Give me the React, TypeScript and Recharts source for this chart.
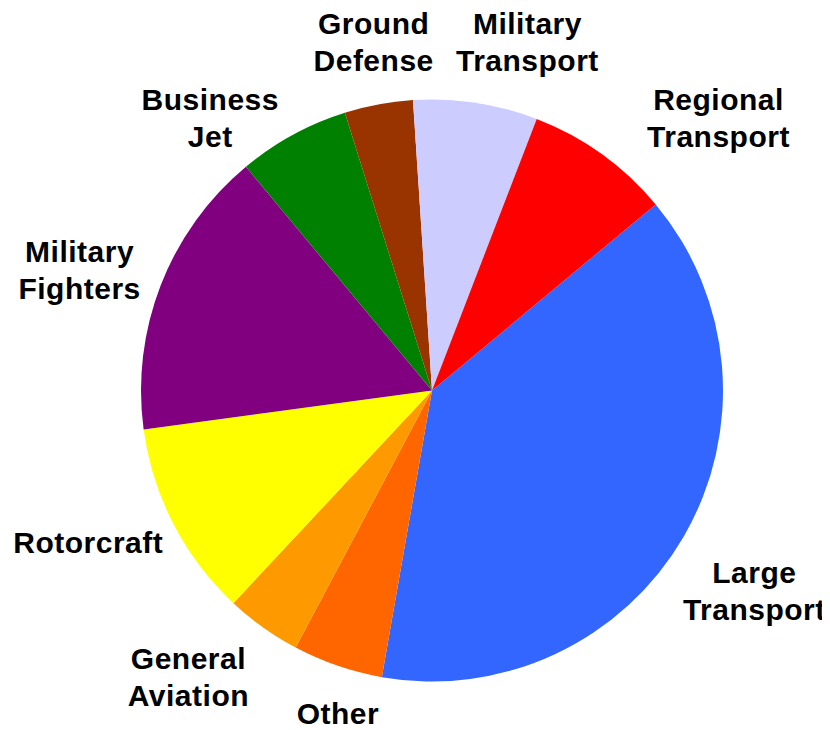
import { PieChart, Pie, Cell } from "recharts";

// slices in clockwise order, starting at the Regional / Large Transport edge
const categories = [
  "Large Transport",
  "Other",
  "General Aviation",
  "Rotorcraft",
  "Military Fighters",
  "Business Jet",
  "Ground Defense",
  "Military Transport",
  "Regional Transport",
];
const shares = [38.8, 5.0, 4.2, 10.9, 16.1, 6.2, 3.8, 6.9, 8.1];
const labelLines = [
  ["Large", "Transport"],
  ["Other"],
  ["General", "Aviation"],
  ["Rotorcraft"],
  ["Military", "Fighters"],
  ["Business", "Jet"],
  ["Ground", "Defense"],
  ["Military", "Transport"],
  ["Regional", "Transport"],
];

const colors = ["#3366FF", "#FF6600", "#FF9900", "#FFFF00", "#800080", "#008000", "#993300", "#CCCCFF", "#FF0000"];
// label shifts away from the default spot (outer radius + 70 along the slice middle)
const labelNudge = [
  [10, 19],
  [23, -19],
  [-34, -8],
  [-23, -14],
  [-16, 10],
  [-49, 44],
  [8, 6],
  [41, 8],
  [76, 21],
];

const data = categories.map((name, i) => ({ name, value: shares[i] }));

const RADIAN = Math.PI / 180;
const FONT = 30;
const LINE = 37;
const CAP = FONT * 0.716;

const renderLabel = (props: any) => {
  const { cx, cy, midAngle, outerRadius, index } = props;
  const r = outerRadius + 70;
  const x = cx + r * Math.cos(-midAngle * RADIAN) + labelNudge[index][0];
  const yc = cy + r * Math.sin(-midAngle * RADIAN) + labelNudge[index][1];
  const lines = labelLines[index];
  const firstBase = yc + (CAP - (lines.length - 1) * LINE) / 2;
  return (
    <text
      key={`lbl-${index}`}
      x={x}
      y={firstBase}
      textAnchor='middle'
      fill='#000'
      fontFamily='"Liberation Sans", Arial, sans-serif'
      fontWeight='bold'
      fontSize={FONT}
      letterSpacing={0.5}>
      {lines.map((t, j) => (
        <tspan key={j} x={x} dy={j === 0 ? 0 : LINE}>
          {t}
        </tspan>
      ))}
    </text>
  );
};

export default function App(): JSX.Element {
  return (
    <div style={{ width: 822, height: 722, background: "#fff" }}>
      <PieChart width={822} height={722} margin={{ top: 0, right: 0, bottom: 0, left: 0 }}>
        <Pie
          data={data}
          dataKey='value'
          nameKey='name'
          cx={424}
          cy={382.5}
          innerRadius={0}
          outerRadius={291}
          startAngle={39.75}
          endAngle={-320.25}
          stroke='none'
          labelLine={false}
          label={renderLabel}
          isAnimationActive={false}>
          {data.map((d, i) => (
            <Cell key={d.name} fill={colors[i]} />
          ))}
        </Pie>
      </PieChart>
    </div>
  );
}
